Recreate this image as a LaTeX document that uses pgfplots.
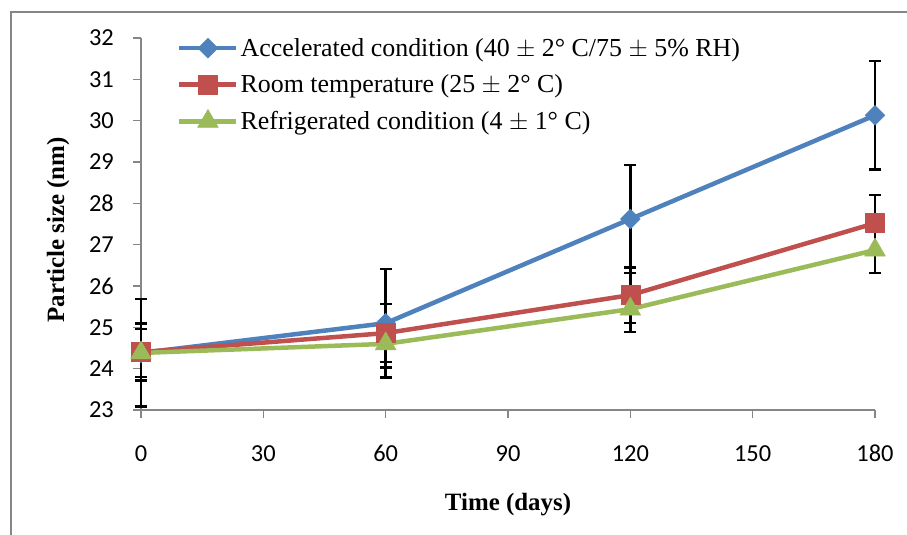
\documentclass[border=0pt]{standalone}
\usepackage{fontspec}
\setmainfont{Liberation Serif}
\newfontfamily\carlito{Carlito}
\usepackage{pgfplots}
\pgfplotsset{compat=1.18}
\definecolor{cblue}{HTML}{4F81BD}
\definecolor{cred}{HTML}{C0504D}
\definecolor{cgreen}{HTML}{9BBB59}
\definecolor{axgray}{HTML}{868686}
\pgfplotsset{
  errplot/.style={draw=none, forget plot,
    error bars/.cd, y dir=both, y explicit,
    error bar style={draw=black, line width=2.5bp},
    error mark options={rotate=90, mark size=6bp, draw=black, line width=2.5bp}},
}
\begin{document}
\begin{tikzpicture}
\path[use as bounding box] (-141bp,-125bp) rectangle (766bp,410bp);
\draw[axgray, line width=2bp] (-130bp,-130bp) -- (-130bp,398bp) -- (770bp,398bp);
\begin{axis}[
  at={(0,0)}, anchor=south west,
  scale only axis, width=734bp, height=372bp,
  xmin=0, xmax=180, ymin=23, ymax=32,
  axis x line*=bottom, axis y line*=left,
  axis line style={axgray, line width=1.5bp},
  xtick={0,30,60,90,120,150,180},
  ytick={23,24,25,26,27,28,29,30,31,32},
  tick align=outside, major tick length=8bp,
  tick style={axgray, line width=1.5bp},
  /pgf/number format/assume math mode=true,
  tick label style={font=\carlito\fontsize{24.5}{24.5}\selectfont, inner sep=0pt},
  yticklabel style={xshift=-19bp},
  xticklabel style={yshift=-27bp},
  xlabel={\textbf{Time (days)}},
  ylabel={\textbf{Particle size (nm)}},
  label style={font=\fontsize{25}{25}\selectfont},
  xlabel style={at={(axis description cs:0.5,-0.255)}, anchor=center},
  ylabel style={at={(axis description cs:-0.113,0.484)}, anchor=center},
  clip=false,
  legend style={draw=none, fill=none, at={(axis description cs:0.045,1.01)}, anchor=north west,
    font=\fontsize{26}{26}\selectfont, row sep=13bp,
    nodes={inner sep=2bp}},
  legend cell align=left,
  legend image code/.code={\draw[mark repeat=2, mark phase=2, #1] plot coordinates {(0bp,0bp) (28.5bp,0bp) (57bp,0bp)};},
]
% error bars first
\addplot[errplot] coordinates {(0,24.38) +- (0,1.30) (60,25.10) +- (0,1.31) (120,27.62) +- (0,1.31) (180,30.13) +- (0,1.31)};
\addplot[errplot] coordinates {(0,24.40) +- (0,0.69) (60,24.86) +- (0,0.70) (120,25.78) +- (0,0.67) (180,27.52) +- (0,0.68)};
\addplot[errplot] coordinates {(0,24.38) +- (0,0.58) (60,24.60) +- (0,0.57) (120,25.44) +- (0,0.55) (180,26.87) +- (0,0.55)};
\addplot[cblue, line width=4.5bp, line join=round, mark=square*, mark size=7bp, mark options={rotate=45, solid, fill=cblue, draw=cblue, line width=0.5bp}] coordinates {(0,24.38) (60,25.10) (120,27.62) (180,30.13)};
\addlegendentry{Accelerated condition (40 $\pm$ 2\textdegree\ C/75 $\pm$ 5\% RH)}
\addplot[cred, line width=4.5bp, line join=round, mark=square*, mark size=9.5bp, mark options={solid, fill=cred, draw=cred, line width=0.5bp}] coordinates {(0,24.40) (60,24.86) (120,25.78) (180,27.52)};
\addlegendentry{Room temperature (25 $\pm$ 2\textdegree\ C)}
\addplot[cgreen, line width=4.5bp, line join=round, mark=triangle*, mark size=12bp, mark options={solid, fill=cgreen, draw=cgreen, line width=0.5bp}] coordinates {(0,24.38) (60,24.60) (120,25.44) (180,26.87)};
\addlegendentry{Refrigerated condition (4 $\pm$ 1\textdegree\ C)}
\end{axis}
\end{tikzpicture}
\end{document}
